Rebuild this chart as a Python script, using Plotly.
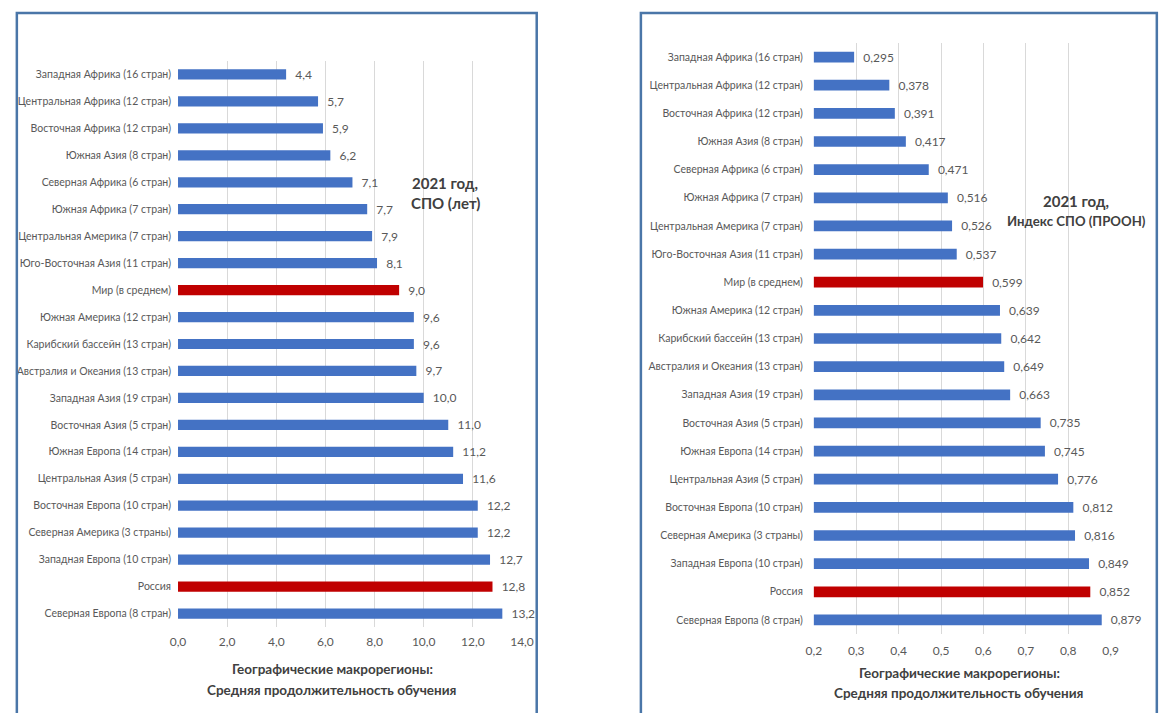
import plotly.graph_objects as go

W, H = 1159, 713

# ---------------- data ----------------
regions_left = [
    "Западная Африка (16 стран)", "Центральная Африка (12 стран)", "Восточная Африка (12 стран)",
    "Южная Азия (8 стран)", "Северная Африка (6 стран)", "Южная Африка (7 стран)",
    "Центральная Америка (7 стран)", "Юго-Восточная Азия (11 стран)", "Мир (в среднем)",
    "Южная Америка (12 стран)", "Карибский бассейн (13 стран)", "Австралия и Океания (13 стран)",
    "Западная Азия (19 стран)", "Восточная Азия (5 стран)", "Южная Европа (14 стран)",
    "Центральная Азия (5 стран)", "Восточная Европа (10 стран)", "Северная Америка (3 страны)",
    "Западная Европа (10 стран)", "Россия", "Северная Европа (8 стран)",
]
years_left = [4.4, 5.7, 5.9, 6.2, 7.1, 7.7, 7.9, 8.1, 9.0, 9.6, 9.6, 9.7,
              10.0, 11.0, 11.2, 11.6, 12.2, 12.2, 12.7, 12.8, 13.2]

regions_right = [
    "Западная Африка (16 стран)", "Центральная Африка (12 стран)", "Восточная Африка (12 стран)",
    "Южная Азия (8 стран)", "Северная Африка (6 стран)", "Южная Африка (7 стран)",
    "Центральная Америка (7 стран)", "Юго-Восточная Азия (11 стран)", "Мир (в среднем)",
    "Южная Америка (12 стран)", "Карибский бассейн (13 стран)", "Австралия и Океания (13 стран)",
    "Западная Азия (19 стран)", "Восточная Азия (5 стран)", "Южная Европа (14 стран)",
    "Центральная Азия (5 стран)", "Восточная Европа (10 стран)", "Северная Америка (3 страны)",
    "Западная Европа (10 стран)", "Россия", "Северная Европа (8 стран)",
]
index_right = [0.295, 0.378, 0.391, 0.417, 0.471, 0.516, 0.526, 0.537, 0.599, 0.639, 0.642,
               0.649, 0.663, 0.735, 0.745, 0.776, 0.812, 0.816, 0.849, 0.852, 0.879]

highlight = ["Мир (в среднем)", "Россия"]

left_ticks = [0, 2, 4, 6, 8, 10, 12, 14]
right_ticks = [0.2, 0.3, 0.4, 0.5, 0.6, 0.7, 0.8, 0.9]

caption_left = ["2021 год,", "СПО (лет)"]
caption_right = ["2021 год,", "Индекс СПО (ПРООН)"]
axis_title = ["Географические макрорегионы:", "Средняя продолжительность обучения"]

# ---------------- styles ----------------
BLUE = "#4472C4"
RED = "#C00000"
GRID = "#D9D9D9"
TXT = "#595959"
DARK = "#404040"
BORDER = "#4A76A8"
FONT = "Lato, 'Open Sans', sans-serif"

def colors(cats):
    return [RED if c in highlight else BLUE for c in cats]

def px_x(p):
    return p / W

def px_y(p):
    return 1 - p / H

fig = go.Figure()

fig.add_trace(go.Bar(
    x=years_left, y=regions_left, orientation="h",
    marker=dict(color=colors(regions_left), line=dict(width=0)),
    texttemplate="\u00a0\u00a0%{x:.1f}", textposition="outside", constraintext="none",
    textfont=dict(family=FONT, size=12, color=TXT),
    cliponaxis=False, xaxis="x", yaxis="y", showlegend=False, hoverinfo="skip",
))
fig.add_trace(go.Bar(
    x=index_right, y=regions_right, orientation="h",
    marker=dict(color=colors(regions_right), line=dict(width=0)),
    texttemplate="\u00a0\u00a0%{x:.3f}", textposition="outside", constraintext="none",
    textfont=dict(family=FONT, size=12, color=TXT),
    cliponaxis=False, xaxis="x2", yaxis="y2", showlegend=False, hoverinfo="skip",
))

n = len(regions_left)
axis_common = dict(showline=False, zeroline=False, ticks="", fixedrange=True)

fig.update_layout(
    width=W, height=H,
    margin=dict(l=0, r=0, t=0, b=0),
    paper_bgcolor="white", plot_bgcolor="white",
    separators=", ",
    bargap=0.62,
    font=dict(family=FONT, color=TXT, size=11),
    xaxis=dict(domain=[px_x(173), px_x(523)], range=[0, 14], tickvals=left_ticks,
               tickformat=".1f", showgrid=True, gridcolor=GRID, gridwidth=1,
               tickfont=dict(size=12, color=TXT), anchor="y", ticklabelstandoff=6,
               **axis_common),
    yaxis=dict(domain=[px_y(627), px_y(61)], range=[n - 0.5, -0.5], type="category",
               tickfont=dict(size=10.5, color=TXT), anchor="x", showgrid=False,
               ticklabelstandoff=6, **axis_common),
    xaxis2=dict(domain=[px_x(820), px_x(1122)], range=[0.2, 0.9], tickvals=right_ticks,
                tickformat=".1f", showgrid=True, gridcolor=GRID, gridwidth=1,
                tickfont=dict(size=12, color=TXT), anchor="y2", ticklabelstandoff=8,
                **axis_common),
    yaxis2=dict(domain=[px_y(634), px_y(43)], range=[n - 0.5, -0.5], type="category",
                tickfont=dict(size=10.5, color=TXT), anchor="x2", showgrid=False,
                ticklabelstandoff=10, **axis_common),
)

# panel borders
fig.add_shape(type="rect", xref="paper", yref="paper",
              x0=px_x(9), x1=px_x(538), y0=px_y(H + 10), y1=px_y(13),
              line=dict(color=BORDER, width=2.5), fillcolor="rgba(0,0,0,0)", layer="above")
fig.add_shape(type="rect", xref="paper", yref="paper",
              x0=px_x(644), x1=px_x(W + 10), y0=px_y(H + 10), y1=px_y(13),
              line=dict(color=BORDER, width=2.5), fillcolor="rgba(0,0,0,0)", layer="above")

def add_text(text, cx, cy, size, bold=True, color=DARK):
    fig.add_annotation(xref="paper", yref="paper", x=px_x(cx), y=px_y(cy),
                       xanchor="center", yanchor="middle", showarrow=False,
                       text=f"<b>{text}</b>" if bold else text,
                       font=dict(family=FONT, size=size, color=color))

# in-chart captions
add_text(caption_left[0], 445, 183, 15)
add_text(caption_left[1], 445, 203, 15)
add_text(caption_right[0], 1087, 201, 15)
add_text(caption_right[1], 1087, 221, 13.2)

# axis titles
add_text(axis_title[0], 330, 669, 13.5)
add_text(axis_title[1], 330, 690, 13.5)
add_text(axis_title[0], 968, 673, 13.5)
add_text(axis_title[1], 968, 693, 13.5)

fig.write_html("out.html", config={"displayModeBar": False},
               post_script="document.body.style.margin='0px';")
